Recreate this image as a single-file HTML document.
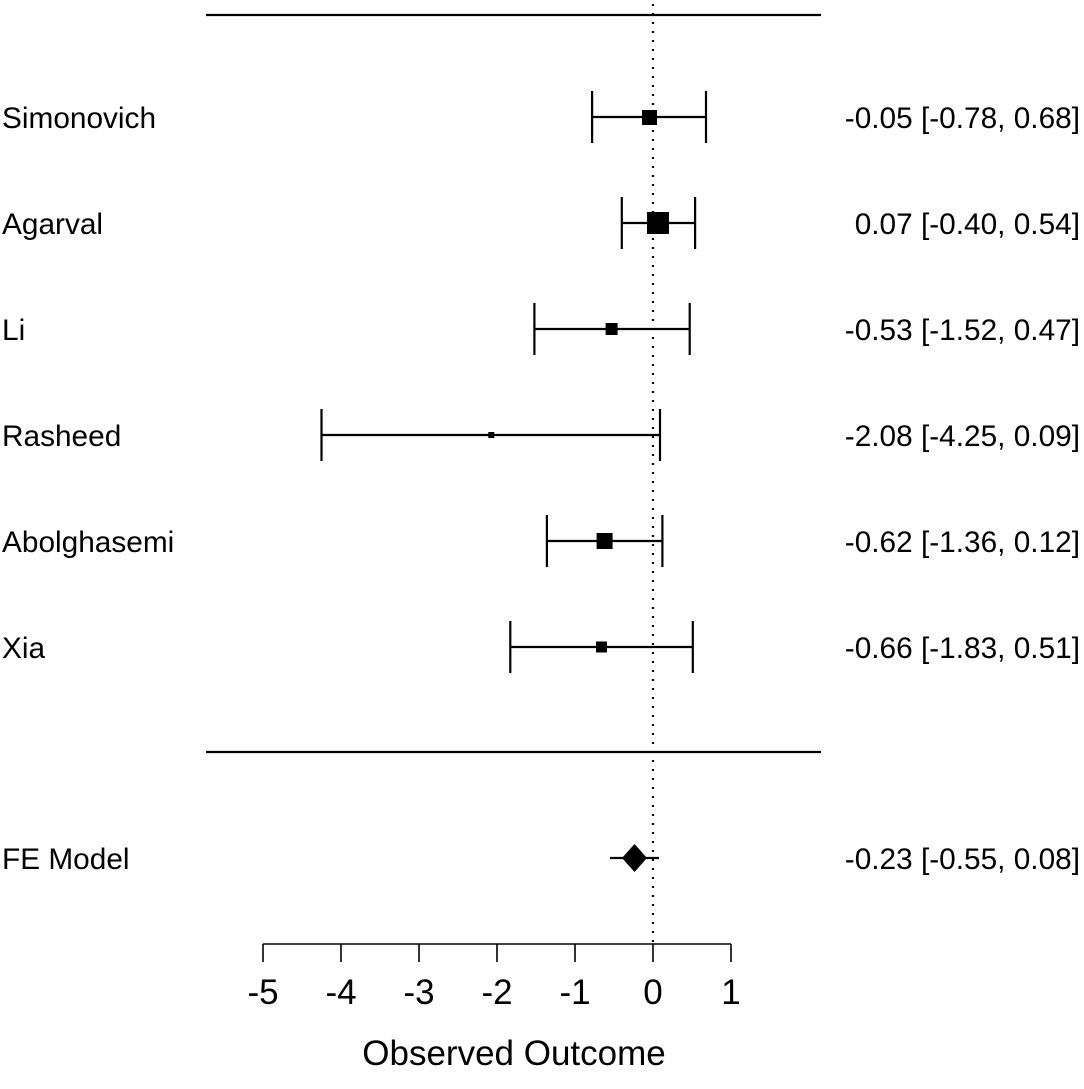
<!DOCTYPE html>
<html><head><style>body{margin:0;background:#fff}</style></head><body>
<svg width="1084" height="1084" xmlns="http://www.w3.org/2000/svg" font-family="Liberation Sans, Arial, sans-serif">
<rect width="1084" height="1084" fill="#fff"/>
<line x1="206" y1="15" x2="821" y2="15" stroke="#000" stroke-width="2.2"/>
<line x1="206" y1="752" x2="821" y2="752" stroke="#000" stroke-width="2.2"/>
<line x1="653" y1="4" x2="653" y2="944" stroke="#000" stroke-width="2.2" stroke-dasharray="2,7"/>
<g stroke="#000" stroke-width="2.2" fill="#000">
<line x1="592.1" y1="117" x2="706" y2="117"/><line x1="592.1" y1="91" x2="592.1" y2="143"/><line x1="706" y1="91" x2="706" y2="143"/><rect x="642" y="110" width="15" height="15" stroke="none"/>
<line x1="621.8" y1="223" x2="695.1" y2="223"/><line x1="621.8" y1="197" x2="621.8" y2="249"/><line x1="695.1" y1="197" x2="695.1" y2="249"/><rect x="647" y="212" width="22" height="22" stroke="none"/>
<line x1="534.4" y1="329" x2="689.7" y2="329"/><line x1="534.4" y1="303" x2="534.4" y2="355"/><line x1="689.7" y1="303" x2="689.7" y2="355"/><rect x="605.6" y="323" width="12" height="12" stroke="none"/>
<line x1="321.5" y1="435" x2="660" y2="435"/><line x1="321.5" y1="409" x2="321.5" y2="461"/><line x1="660" y1="409" x2="660" y2="461"/><rect x="488.3" y="432" width="6" height="6" stroke="none"/>
<line x1="546.9" y1="541" x2="662.4" y2="541"/><line x1="546.9" y1="515" x2="546.9" y2="567"/><line x1="662.4" y1="515" x2="662.4" y2="567"/><rect x="596.6" y="533" width="16" height="16" stroke="none"/>
<line x1="510.3" y1="647" x2="692.8" y2="647"/><line x1="510.3" y1="621" x2="510.3" y2="673"/><line x1="692.8" y1="621" x2="692.8" y2="673"/><rect x="596" y="641.5" width="11" height="11" stroke="none"/>
<line x1="610" y1="858" x2="659" y2="858"/>
<polygon points="622,858 634.5,844 647,858 634.5,872" stroke="none"/>
</g>
<g stroke="#000" stroke-width="1.6">
<line x1="263" y1="944" x2="731" y2="944"/>
<line x1="263" y1="944" x2="263" y2="962"/><line x1="341" y1="944" x2="341" y2="962"/><line x1="419" y1="944" x2="419" y2="962"/><line x1="497" y1="944" x2="497" y2="962"/><line x1="575" y1="944" x2="575" y2="962"/><line x1="653" y1="944" x2="653" y2="962"/><line x1="731" y1="944" x2="731" y2="962"/>
</g>
<g font-size="35" text-anchor="middle">
<text x="263" y="1004">-5</text><text x="341" y="1004">-4</text><text x="419" y="1004">-3</text><text x="497" y="1004">-2</text><text x="575" y="1004">-1</text><text x="653" y="1004">0</text><text x="731" y="1004">1</text>
<text x="514" y="1065">Observed Outcome</text>
</g>
<g font-size="29.8">
<text x="2" y="128">Simonovich</text><text x="2" y="234">Agarval</text><text x="2" y="340">Li</text><text x="2" y="446">Rasheed</text><text x="2" y="552">Abolghasemi</text><text x="2" y="658">Xia</text><text x="2" y="869">FE Model</text>
</g>
<g font-size="29.8" text-anchor="end">
<text x="1080" y="128">-0.05 [-0.78, 0.68]</text><text x="1080" y="234">0.07 [-0.40, 0.54]</text><text x="1080" y="340">-0.53 [-1.52, 0.47]</text><text x="1080" y="446">-2.08 [-4.25, 0.09]</text><text x="1080" y="552">-0.62 [-1.36, 0.12]</text><text x="1080" y="658">-0.66 [-1.83, 0.51]</text><text x="1080" y="869">-0.23 [-0.55, 0.08]</text>
</g>
</svg>
</body></html>
